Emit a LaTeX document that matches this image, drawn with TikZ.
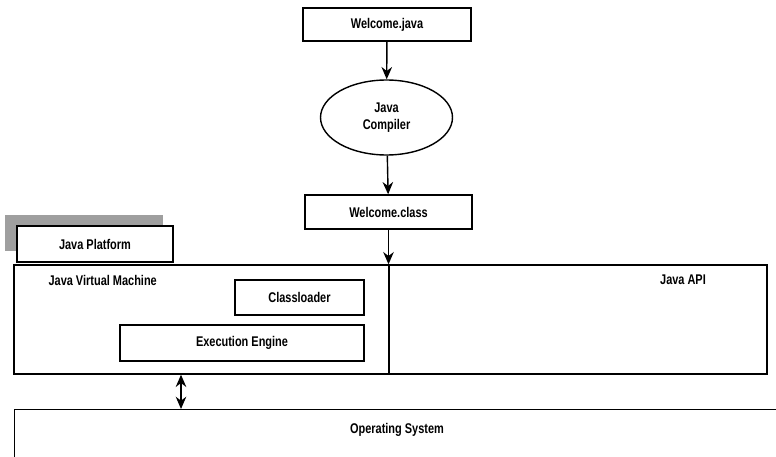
\documentclass[tikz,border=0pt]{standalone}
\usepackage{fontspec}
\setmainfont[FakeStretch=0.78]{Liberation Sans}
\usetikzlibrary{shapes.geometric, arrows.meta, positioning}

\begin{document}
\begin{tikzpicture}[x=0.02cm, y=-0.02cm,
    font=\fontsize{8}{9.5}\selectfont\bfseries,
    line width=0.8pt,
    box/.style={draw, rectangle, inner sep=0pt},
    arr/.style={-{Stealth[length=7pt, width=6pt]}}]
    \useasboundingbox (0, 0) rectangle (776, 456);
    \clip (0, 0) rectangle (776, 456);

    % compile chain
    \node[box, minimum width=3.36cm, minimum height=0.66cm] (src) at (387, 24.5) {Welcome.java};
    \node[draw, ellipse, inner sep=0pt, minimum width=2.64cm, minimum height=1.5cm, align=center] (javac) at (386.5, 117.5) {Java\\Compiler};
    \node[box, minimum width=3.34cm, minimum height=0.68cm] (cls) at (388.5, 212) {Welcome.class};

    % platform tab
    \fill[gray!75] (5, 215) rectangle (163, 251);
    \node[box, fill=white, minimum width=3.12cm, minimum height=0.72cm] (platform) at (95, 244) {Java Platform};

    % jvm + api
    \node[box, minimum width=7.5cm, minimum height=2.18cm] (jvm) at (201.5, 319.5) {};
    \node[box, minimum width=7.56cm, minimum height=2.18cm] (api) at (578, 319.5) {};
    \node[anchor=west] (jvmtxt) at (42, 280) {Java Virtual Machine};
    \node (apitxt) at (683, 280) {Java API};
    \node[box, minimum width=2.58cm, minimum height=0.7cm] (loader) at (299.5, 297.5) {Classloader};
    \node[box, minimum width=4.88cm, minimum height=0.72cm] (engine) at (242, 343) {Execution Engine};

    % os
    \node[box, anchor=north west, minimum width=15.72cm, minimum height=1.42cm] (os) at (14, 409) {};
    \node (ostxt) at (397, 430) {Operating System};

    \coordinate (link) at (181, 0);
    \draw[arr] (src) -- (javac);
    \draw[arr] (javac) -- (cls);
    \draw[arr] (cls.south) -- (cls.south |- jvm.north);
    \draw[{Stealth[length=7pt, width=6pt]}-{Stealth[length=7pt, width=6pt]}] (jvm.south -| link) -- (os.north -| link);
\end{tikzpicture}
\end{document}
